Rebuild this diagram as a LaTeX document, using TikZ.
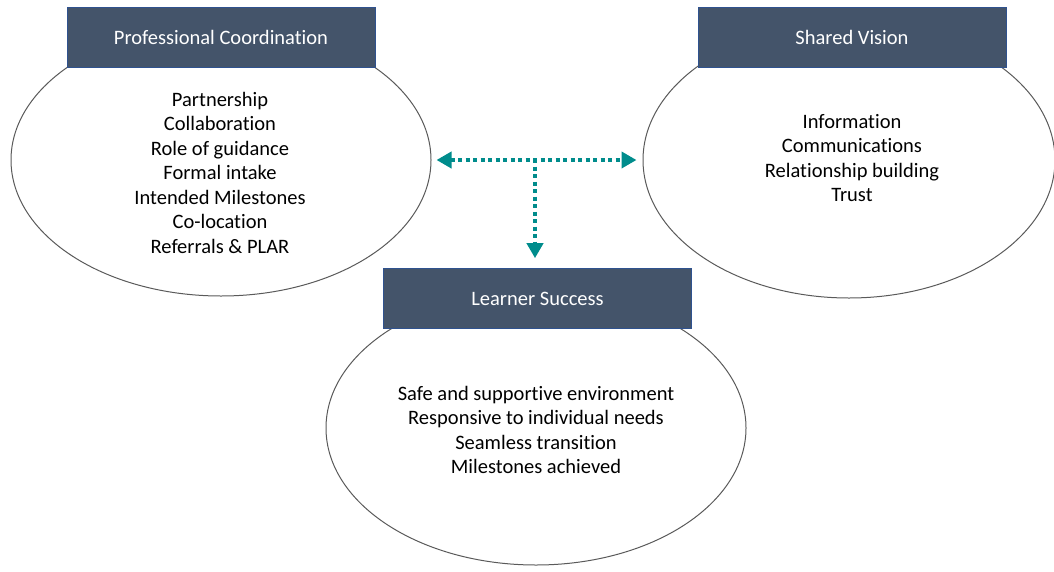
\documentclass[tikz,border=0pt]{standalone}
\usepackage{fontspec}
\setmainfont{Carlito}[Ligatures=NoCommon]
\usetikzlibrary{shapes.geometric,arrows.meta}
\definecolor{headfill}{RGB}{68,84,106}
\definecolor{headline}{RGB}{47,82,143}
\definecolor{rim}{RGB}{90,90,90}
\definecolor{linkteal}{RGB}{0,140,140}
\begin{document}
\begin{tikzpicture}[x=1pt,y=-1pt,
  oval/.style={ellipse,draw=rim,line width=1pt,fill=white,inner sep=0pt},
  header/.style={rectangle,draw=headline,line width=0.6pt,fill=headfill,text=white,
    minimum width=308pt,minimum height=60pt,inner sep=0pt,font=\fontsize{20.5}{24}\selectfont},
  items/.style={align=center,inner sep=0pt,font=\fontsize{20.5}{24.5}\selectfont},
  link/.style={linkteal,line width=4pt,dash pattern=on 4pt off 3.5pt,
    -{Triangle[width=16pt,length=15pt]}}]
\useasboundingbox (0,0) rectangle (1054,571);
% three ovals
\node[oval,minimum width=420pt,minimum height=272pt] (pc) at (221,160) {};
\node[oval,minimum width=412pt,minimum height=276pt] (sv) at (849,160) {};
\node[oval,minimum width=420pt,minimum height=274pt] (ls) at (536,428) {};
% header boxes
\node[header] (pch) at (221,37.5) {Professional Coordination};
\node[header] (svh) at (852,37.5) {Shared Vision};
\node[header] (lsh) at (537.5,298.5) {Learner Success};
% contents
\node[items] (pct) at (220,172.5) {Partnership\\Collaboration\\Role of guidance\\Formal intake\\Intended Milestones\\Co-location\\Referrals \& PLAR};
\node[items] (svt) at (852,158) {Information\\Communications\\Relationship building\\Trust};
\node[items] (lst) at (536,430) {Safe and supportive environment\\Responsive to individual needs\\Seamless transition\\Milestones achieved};
% dotted links
\coordinate (j) at (535,159);
\draw[link,{Triangle[width=16pt,length=15pt]}-{Triangle[width=16pt,length=15pt]},shorten <=5pt,shorten >=6pt] (pc.east) -- (sv.west);
\draw[link,shorten >=10pt] (j) -- (j |- lsh.north);
\end{tikzpicture}
\end{document}
